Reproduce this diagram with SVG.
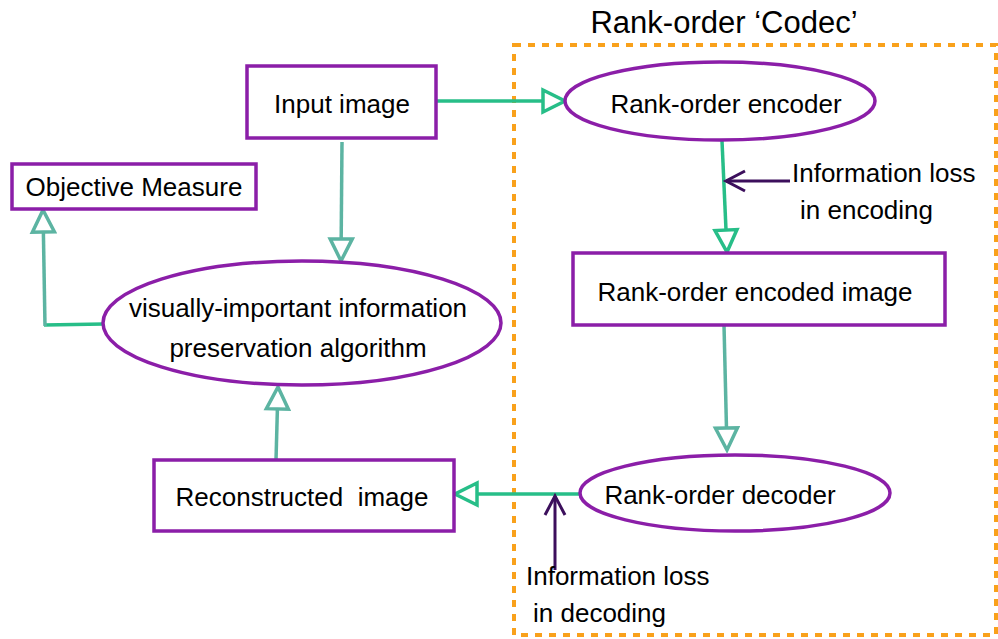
<svg xmlns="http://www.w3.org/2000/svg" width="998" height="639" viewBox="0 0 998 639">
<style>
.node{fill:#fff;stroke:#8B1EA8;stroke-width:3.5}
.t{font-family:"Liberation Sans",Arial,sans-serif;font-size:26px;fill:#000}
.g{fill:none;stroke:#27BE88;stroke-width:3.5}
.c{fill:none;stroke:#5CB4A2;stroke-width:3.5}
.d{fill:none;stroke:#3C0F5C;stroke-width:3}
</style>
<defs>
<marker id="hg" viewBox="-3 -3 28 28" markerWidth="28" markerHeight="28" refX="22" refY="11" orient="auto" markerUnits="userSpaceOnUse">
<path d="M0,0 L22,11 L0,22 Z" fill="#fff" stroke="#27BE88" stroke-width="3.5" stroke-linejoin="miter"/>
</marker>
<marker id="hc" viewBox="-3 -3 28 28" markerWidth="28" markerHeight="28" refX="22" refY="11" orient="auto" markerUnits="userSpaceOnUse">
<path d="M0,0 L22,11 L0,22 Z" fill="#fff" stroke="#5CB4A2" stroke-width="3.5"/>
</marker>
<marker id="hd" viewBox="-3 -3 26 26" markerWidth="26" markerHeight="26" refX="19" refY="10" orient="auto" markerUnits="userSpaceOnUse">
<path d="M0,0 L19,10 L0,20" fill="none" stroke="#3C0F5C" stroke-width="3"/>
</marker>
</defs>
<rect width="998" height="639" fill="#fff"/>

<g id="codec">
<rect x="514" y="45" width="482" height="590" fill="none" stroke="#F9A11B" stroke-width="4" stroke-dasharray="7,7"/>
<text class="t" x="724" y="33" text-anchor="middle" style="font-size:31px">Rank-order ‘Codec’</text>
</g>

<g id="connectors">
<line class="g" x1="437" y1="101" x2="565" y2="101" marker-end="url(#hg)"/>
<line class="g" x1="722" y1="141" x2="727" y2="252" marker-end="url(#hg)"/>
<line class="d" x1="790" y1="181" x2="726" y2="181" marker-end="url(#hd)"/>
<line class="c" x1="724" y1="325" x2="727" y2="450" marker-end="url(#hc)"/>
<line class="g" x1="581" y1="494" x2="455" y2="494" marker-end="url(#hg)"/>
<line class="d" x1="555" y1="570" x2="555" y2="496" marker-end="url(#hd)"/>
<line class="c" x1="276" y1="460" x2="278" y2="387" marker-end="url(#hc)"/>
<line class="c" x1="342" y1="142" x2="341" y2="261" marker-end="url(#hc)"/>
<line class="g" x1="104" y1="324" x2="44" y2="325"/>
<line class="c" x1="45" y1="326" x2="43" y2="210" marker-end="url(#hc)"/>
</g>

<g id="input-image">
<rect class="node" x="247" y="66" width="189" height="72"/>
<text class="t" x="342" y="113" text-anchor="middle">Input image</text>
</g>

<g id="objective-measure">
<rect class="node" x="12" y="164" width="244" height="45"/>
<text class="t" x="134" y="196" text-anchor="middle">Objective Measure</text>
</g>

<g id="encoder">
<ellipse class="node" cx="720" cy="101" rx="155" ry="39"/>
<text class="t" x="726" y="113" text-anchor="middle">Rank-order encoder</text>
</g>

<g id="info-loss-enc">
<text class="t" x="792" y="182">Information loss</text>
<text class="t" x="800" y="219">in encoding</text>
</g>

<g id="encoded-image">
<rect class="node" x="573" y="253" width="372" height="72"/>
<text class="t" x="755" y="301" text-anchor="middle">Rank-order encoded image</text>
</g>

<g id="decoder">
<ellipse class="node" cx="735" cy="493" rx="155" ry="38"/>
<text class="t" x="720" y="504" text-anchor="middle">Rank-order decoder</text>
</g>

<g id="info-loss-dec">
<text class="t" x="526" y="585">Information loss</text>
<text class="t" x="533" y="622">in decoding</text>
</g>

<g id="reconstructed-image">
<rect class="node" x="154" y="460" width="300" height="71"/>
<text class="t" x="302" y="506" text-anchor="middle" xml:space="preserve" style="white-space:pre">Reconstructed  image</text>
</g>

<g id="vip-algorithm">
<ellipse class="node" cx="302" cy="323" rx="199" ry="62"/>
<text class="t" x="298" y="317" text-anchor="middle">visually-important information</text>
<text class="t" x="298" y="357" text-anchor="middle">preservation algorithm</text>
</g>
</svg>
